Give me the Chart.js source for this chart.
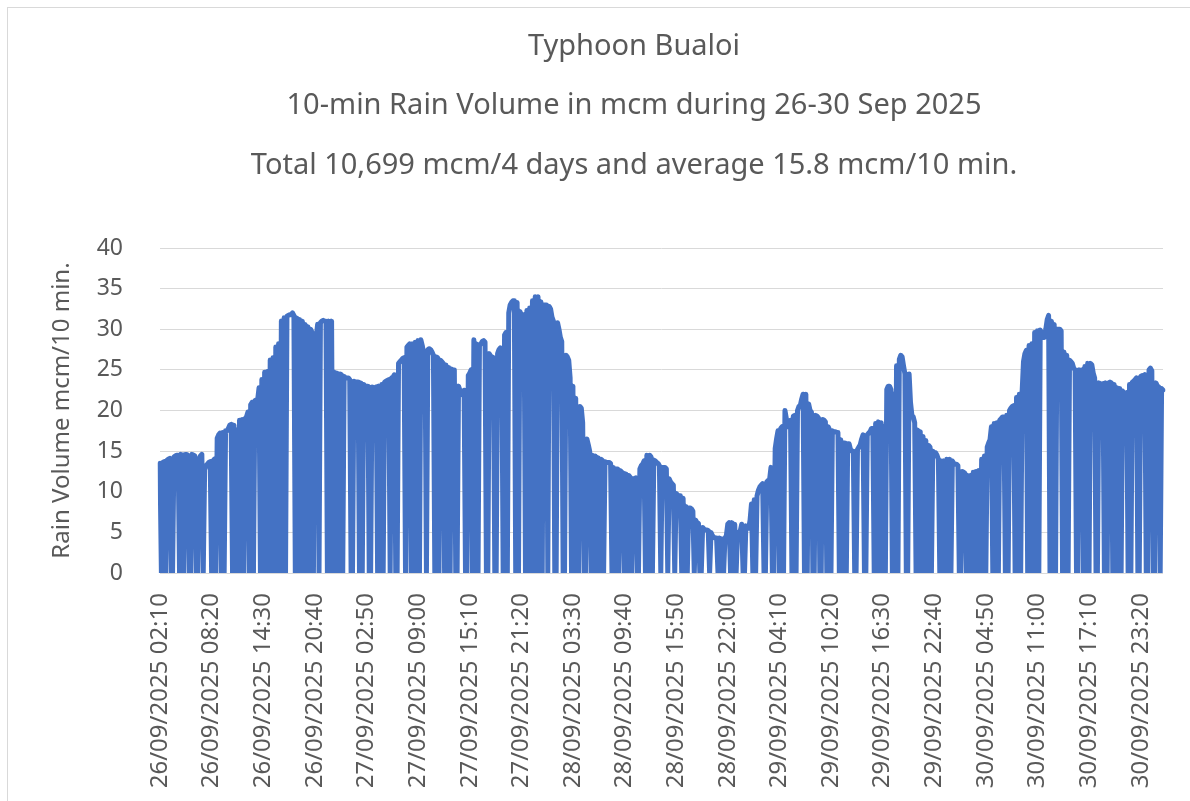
<!DOCTYPE html>
<html>
<head>
<meta charset="utf-8">
<script src="https://cdn.jsdelivr.net/npm/chart.js@4.4.0/dist/chart.umd.min.js"></script>
<style>
  html, body { margin: 0; padding: 0; background: #ffffff; width: 1190px; height: 801px; overflow: hidden; }
  #frame { position: absolute; left: 7px; top: 7px; width: 1300px; height: 900px; border-left: 1px solid #d9d9d9; border-top: 1px solid #d9d9d9; }
  #wrap { position: absolute; left: 0; top: 0; width: 1190px; height: 801px; }
  .ttl { position: absolute; left: 0; width: 1268px; text-align: center; font-family: 'Noto Sans', sans-serif;
         font-size: 29px; line-height: 40px; color: #595959; white-space: nowrap; }
</style>
</head>
<body>
<div id="frame"></div>
<div id="wrap"><canvas id="c" width="1190" height="801"></canvas></div>
<div class="ttl" id="t1" style="top:24px"></div>
<div class="ttl" id="t2" style="top:83px"></div>
<div class="ttl" id="t3" style="top:143px"></div>
<script>
// ---- Titles ----
const titleLines = [
  'Typhoon Bualoi',
  '10-min Rain Volume in mcm during 26-30 Sep 2025',
  'Total 10,699 mcm/4 days and average 15.8 mcm/10 min.'
];
const yAxisTitle = 'Rain Volume mcm/10 min.';

// ---- Time axis ----
const startTime = { year: 2025, month: 9, day: 26, hour: 2, minute: 10 };
const stepMinutes = 10;
const tickEvery = 37;
const tickLabels = [
  '26/09/2025 02:10', '26/09/2025 08:20', '26/09/2025 14:30', '26/09/2025 20:40',
  '27/09/2025 02:50', '27/09/2025 09:00', '27/09/2025 15:10', '27/09/2025 21:20',
  '28/09/2025 03:30', '28/09/2025 09:40', '28/09/2025 15:50', '28/09/2025 22:00',
  '29/09/2025 04:10', '29/09/2025 10:20', '29/09/2025 16:30', '29/09/2025 22:40',
  '30/09/2025 04:50', '30/09/2025 11:00', '30/09/2025 17:10', '30/09/2025 23:20'
];

// ---- 10-min rain volume (mcm) ----
const rain26Sep = [
  13.5,0,13.6,13.7,0,13.9,14.0,14.1,0,0,
  14.3,14.4,14.5,14.5,0,14.6,14.5,0,14.6,14.6,
  14.5,0,0,14.6,14.5,14.4,0,0,14.0,14.4,
  14.6,0,12.7,13.2,13.4,13.6,13.7,0,13.8,14.0,
  0,16.6,17.0,17.2,0,17.3,0,17.5,17.5,17.8,
  18.2,18.3,0,18.2,0,17.6,0,18.8,0,18.9,
  0,19.0,19.2,19.8,0,20.7,21.0,0,21.2,21.3,
  21.3,22.8,0,23.8,0,24.7,0,24.8,0,26.2,
  0,26.5,0,27.8,0,28.2,0,31.0,0,31.4,
  0,31.6,31.7,31.8,31.8,32.0,31.7,0,31.4,0,
  31.2,0,31.0,0,30.6,0,30.3,0,30.0,29.6,
  0,29.2,29.0,30.6,0,30.8,31.0,31.1,31.0,31.0,
  0,31.0,0,31.0,0,24.7,0,24.6,0,24.5,
  24.4
];
const rain27Sep = [
  0,24.2,24.0,24.0,24.0,23.8,0,0,23.6,23.5,
  23.5,23.5,0,23.4,0,23.2,23.0,23.0,23.0,0,
  0,22.9,22.8,22.8,22.9,0,23.0,0,23.2,0,
  23.5,23.6,23.7,23.8,0,24.0,24.1,24.4,0,0,
  25.8,26.0,26.2,26.4,26.5,0,27.8,28.0,28.2,0,
  28.2,0,28.4,0,28.6,0,28.7,28.0,27.0,27.2,
  0,27.5,27.6,27.5,27.2,26.8,0,26.6,26.5,0,
  26.2,26.0,25.8,0,25.6,0,25.3,0,25.1,25.0,
  25.0,0,0,23.0,22.5,22.2,21.9,22.5,0,0,
  24.3,24.6,25.0,0,28.7,0,28.2,0,28.0,28.2,
  28.5,28.6,28.4,0,0,27.0,26.7,26.6,26.5,0,
  0,27.0,27.5,27.7,27.6,0,29.3,29.6,0,32.0,
  33.0,33.3,33.5,33.5,0,33.3,0,32.2,31.8,31.7,
  31.8,0,32.3,0,32.6,0,33.5,0,34.0,0,
  34.0,0,33.4,0
];
const rain28Sep = [
  33.0,33.0,33.0,0,32.8,32.5,31.5,31.0,0,0,
  30.8,30.0,29.0,28.5,0,0,26.8,26.6,26.2,24.0,
  0,23.0,0,21.5,0,0,20.5,20.3,18.5,0,
  0,16.5,15.8,15.0,0,14.5,0,14.4,0,14.2,
  0,14.0,13.9,0,13.7,13.6,13.6,13.6,13.5,0,
  13.0,0,12.8,12.8,0,12.6,12.4,12.3,0,12.2,
  0,12.0,11.8,0,11.6,11.6,11.7,0,0,12.8,
  13.2,13.4,13.8,0,14.5,0,14.5,14.3,0,13.9,
  13.8,13.6,13.5,13.2,0,13.0,13.0,13.0,12.8,0,
  11.6,11.2,11.0,10.8,0,9.8,9.6,9.5,9.5,0,
  9.2,0,8.2,0,8.0,8.0,7.9,7.6,0,6.5,
  6.2,6.1,0,0,5.6,5.4,5.3,5.3,5.2,0,
  5.0,4.6,4.4,4.3,4.3,0,4.3,0,4.2,0,
  4.3,4.6,6.0,6.2,0,6.2,0,6.0,0,5.0,
  5.0,5.2,6.0,0
];
const rain29Sep = [
  0,5.8,5.5,5.5,6.5,8.5,0,9.0,0,9.5,
  10.2,10.6,10.8,11.0,0,0,11.2,11.4,11.5,13.0,
  0,0,15.3,16.5,17.5,0,17.8,18.0,0,20.0,
  19.0,18.0,18.2,18.8,0,19.3,19.4,0,20.0,20.5,
  20.6,21.4,22.0,0,22.0,0,20.8,20.0,19.8,0,
  0,19.4,19.3,19.1,0,0,18.9,18.8,18.6,0,
  18.0,17.6,0,17.5,17.4,17.4,17.3,17.3,0,16.4,
  0,16.0,16.0,0,15.9,15.9,15.2,15.0,15.0,0,
  0,15.2,15.5,15.8,16.5,17.0,0,0,17.0,17.2,
  17.4,17.8,17.8,0,18.4,0,18.6,0,18.5,0,
  18.0,0,22.6,23.0,23.0,22.6,0,22.0,0,25.5,
  0,26.3,26.8,26.6,25.5,24.5,0,0,24.5,21.0,
  19.4,19.2,18.5,0,17.6,0,17.4,0,16.8,0,
  16.3,0,15.7,15.5,0,15.0,14.8,14.8,14.5,14.0,
  0,13.8,0,13.8
];
const rain30Sep = [
  0,14.0,0,14.0,0,13.8,13.5,13.4,13.4,13.2,
  0,0,12.5,12.4,12.3,0,12.0,0,12.0,0,
  12.4,0,12.5,0,12.6,0,14.0,0,14.4,0,
  15.5,16.0,16.4,18.0,0,18.4,0,18.5,0,18.8,
  19.0,19.2,19.2,0,19.4,0,20.0,20.3,20.5,20.6,
  0,21.6,0,22.0,0,22.2,26.0,27.0,27.4,0,
  28.0,0,28.2,0,29.6,0,29.8,0,29.9,29.5,
  29.0,29.0,30.0,31.2,31.7,0,31.0,0,30.6,0,
  30.0,30.0,30.0,29.8,0,27.2,0,26.8,0,26.2,
  26.0,25.8,25.2,25.0,0,0,25.0,24.9,25.0,0,
  25.4,0,25.8,0,25.8,25.6,24.6,24.0,0,0,
  23.4,23.3,23.2,23.3,0,23.4,0,23.4,23.5,23.4,
  0,23.2,0,22.8,0,22.7,0,22.4,22.1,22.0,
  22.2,0,23.2,0,23.5,23.6,23.8,24.0,0,0,
  24.2,24.3,24.2,24.4
];
const rain01Oct = [
  0,0,25.0,25.2,24.9,0,0,23.4,23.0,22.9,0,22.7,22.5
];

const rainValues = [].concat(rain26Sep, rain27Sep, rain28Sep, rain29Sep, rain30Sep, rain01Oct);

function pad2(n) { return String(n).padStart(2, '0'); }
const t0 = Date.UTC(startTime.year, startTime.month - 1, startTime.day, startTime.hour, startTime.minute);
const categories = rainValues.map((_, i) => {
  const d = new Date(t0 + i * stepMinutes * 60000);
  return pad2(d.getUTCDate()) + '/' + pad2(d.getUTCMonth() + 1) + '/' + d.getUTCFullYear() + ' ' +
         pad2(d.getUTCHours()) + ':' + pad2(d.getUTCMinutes());
});

titleLines.forEach((s, i) => { document.getElementById('t' + (i + 1)).textContent = s; });

const textColor = '#595959';
const gridColor = '#d9d9d9';
const fontFamily = "'Noto Sans', sans-serif";

new Chart(document.getElementById('c'), {
  type: 'line',
  data: {
    labels: categories,
    datasets: [{
      label: 'Rain Volume',
      data: rainValues,
      borderColor: '#4472C4',
      backgroundColor: '#4472C4',
      borderWidth: 5,
      pointRadius: 0,
      pointHoverRadius: 0,
      tension: 0,
      fill: false,
      borderJoinStyle: 'round',
      borderCapStyle: 'round'
    }]
  },
  options: {
    responsive: false,
    animation: false,
    events: [],
    layout: { padding: { left: 0, right: 24, top: 248, bottom: 0 } },
    plugins: { legend: { display: false }, title: { display: false }, tooltip: { enabled: false } },
    scales: {
      x: {
        type: 'category',
        offset: false,
        grid: { display: false, drawTicks: false },
        border: { display: true, color: gridColor, width: 1 },
        afterBuildTicks: (s) => { s.ticks = s.ticks.filter(t => t.value % tickEvery === 0); },
        afterFit: (s) => { s.height = 228; },
        ticks: {
          autoSkip: false, minRotation: 90, maxRotation: 90, padding: 20,
          color: textColor, font: { family: fontFamily, size: 24 },
          callback: (v) => tickLabels[Math.round(v / tickEvery)]
        }
      },
      y: {
        min: 0, max: 40,
        grid: { color: gridColor, lineWidth: 1, drawTicks: false },
        border: { display: false },
        afterFit: (s) => { s.width = 160; },
        ticks: { stepSize: 5, padding: 37, color: textColor, font: { family: fontFamily, size: 23 } },
        title: { display: true, text: yAxisTitle, color: textColor, font: { family: fontFamily, size: 24 }, padding: { top: 48, bottom: 0 } }
      }
    }
  }
});
</script>
</body>
</html>
